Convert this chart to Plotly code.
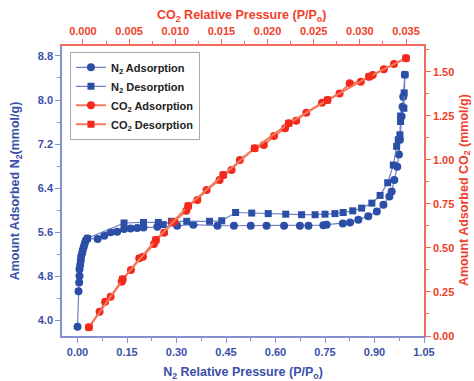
import plotly.graph_objects as go

# N2 adsorption (x: relative pressure, y: mmol/g)
n2_ads_x = [0.000, 0.003, 0.005, 0.006, 0.006, 0.008, 0.010, 0.011, 0.014, 0.016, 0.019, 0.022, 0.025, 0.030,
            0.061, 0.081, 0.100, 0.120, 0.141, 0.161, 0.181, 0.200, 0.242, 0.302, 0.351, 0.424, 0.474, 0.525,
            0.573, 0.626, 0.674, 0.700, 0.745, 0.755, 0.804, 0.826, 0.851, 0.881, 0.907, 0.927, 0.945, 0.952,
            0.960, 0.969, 0.974, 0.977, 0.982, 0.985, 0.987, 0.992]
n2_ads_y = [3.89, 4.53, 4.69, 4.81, 4.93, 5.01, 5.09, 5.16, 5.22, 5.28, 5.34, 5.40, 5.45, 5.49,
            5.48, 5.54, 5.60, 5.61, 5.66, 5.67, 5.68, 5.69, 5.70, 5.72, 5.74, 5.72, 5.72, 5.72,
            5.72, 5.72, 5.72, 5.72, 5.73, 5.74, 5.76, 5.78, 5.83, 5.89, 5.98, 6.10, 6.25, 6.34,
            6.55, 6.79, 7.01, 7.28, 7.70, 7.88, 8.06, 8.46]

# N2 desorption
n2_des_x = [0.992, 0.990, 0.989, 0.979, 0.979, 0.977, 0.972, 0.967, 0.957, 0.940, 0.917, 0.892, 0.861, 0.834,
            0.805, 0.780, 0.750, 0.720, 0.679, 0.631, 0.578, 0.528, 0.479, 0.437, 0.400, 0.331, 0.285,
            0.260, 0.245, 0.200, 0.141, 0.030]
n2_des_y = [8.46, 8.13, 7.85, 7.71, 7.61, 7.37, 7.28, 7.16, 6.82, 6.50, 6.27, 6.13, 6.04, 5.99,
            5.96, 5.94, 5.93, 5.92, 5.92, 5.93, 5.94, 5.95, 5.96, 5.81, 5.80, 5.80, 5.80,
            5.74, 5.78, 5.78, 5.77, 5.49]

# CO2 adsorption (x: relative pressure, y: mmol/g)
co2_ads_x = [0.00065, 0.0018, 0.0024, 0.0030, 0.0042, 0.0043, 0.0052, 0.0061, 0.0065, 0.0077, 0.0079,
             0.0088, 0.0097, 0.0099, 0.0112, 0.0114, 0.0124, 0.0134, 0.0148, 0.0152, 0.0161, 0.0170,
             0.0186, 0.0196, 0.0207, 0.0219, 0.0223, 0.0231, 0.0242, 0.0259, 0.0265, 0.0278, 0.0289,
             0.0301, 0.0310, 0.0314, 0.0326, 0.0337, 0.0350]
co2_ads_y = [0.049, 0.138, 0.195, 0.223, 0.308, 0.322, 0.375, 0.441, 0.450, 0.522, 0.545,
             0.586, 0.645, 0.649, 0.711, 0.738, 0.772, 0.829, 0.885, 0.914, 0.942, 0.999,
             1.065, 1.084, 1.135, 1.179, 1.207, 1.222, 1.267, 1.324, 1.339, 1.377, 1.434,
             1.443, 1.472, 1.481, 1.514, 1.544, 1.577]

# CO2 desorption
co2_des_x = [0.0350, 0.0310, 0.0265, 0.0223, 0.0186, 0.0152, 0.0114, 0.0079, 0.0043, 0.00065]
co2_des_y = [1.577, 1.472, 1.339, 1.207, 1.065, 0.914, 0.738, 0.545, 0.322, 0.049]

x_ticks = [0, 0.15, 0.30, 0.45, 0.60, 0.75, 0.90, 1.05]
x_labels = ["0.00", "0.15", "0.30", "0.45", "0.60", "0.75", "0.90", "1.05"]
y_ticks = [4.0, 4.8, 5.6, 6.4, 7.2, 8.0, 8.8]
y_labels = ["4.0", "4.8", "5.6", "6.4", "7.2", "8.0", "8.8"]
x2_ticks = [0, 0.005, 0.010, 0.015, 0.020, 0.025, 0.030, 0.035]
x2_labels = ["0.000", "0.005", "0.010", "0.015", "0.020", "0.025", "0.030", "0.035"]
y2_ticks = [0, 0.25, 0.50, 0.75, 1.00, 1.25, 1.50]
y2_labels = ["0.00", "0.25", "0.50", "0.75", "1.00", "1.25", "1.50"]

BLUE = "#2b4ea6"
BLUE_L = "#6f7fc6"
RED = "#f2291c"
RED_L = "#f47a5e"
AX_BLUE = "#8590cc"
AX_RED = "#f26a5a"
TXT_BLUE = "#3a4fa8"
TXT_RED = "#f0402a"
FONT = "Liberation Sans, Arial, sans-serif"

fig = go.Figure()
fig.add_trace(go.Scatter(x=n2_ads_x, y=n2_ads_y, mode="lines+markers", name="N<sub>2</sub> Adsorption",
                         line=dict(color=BLUE_L, width=1.2),
                         marker=dict(symbol="circle", size=8, color=BLUE), xaxis="x", yaxis="y"))
fig.add_trace(go.Scatter(x=n2_des_x, y=n2_des_y, mode="lines+markers", name="N<sub>2</sub> Desorption",
                         line=dict(color=BLUE_L, width=1.2),
                         marker=dict(symbol="square", size=7, color=BLUE), xaxis="x", yaxis="y"))
fig.add_trace(go.Scatter(x=co2_ads_x, y=co2_ads_y, mode="lines+markers", name="CO<sub>2</sub> Adsorption",
                         line=dict(color=RED_L, width=2),
                         marker=dict(symbol="circle", size=8, color=RED), xaxis="x2", yaxis="y2"))
fig.add_trace(go.Scatter(x=co2_des_x, y=co2_des_y, mode="lines+markers", name="CO<sub>2</sub> Desorption",
                         line=dict(color=RED_L, width=2),
                         marker=dict(symbol="square", size=7, color=RED), xaxis="x2", yaxis="y2"))

tickfont_b = dict(family=FONT, size=11, color=TXT_BLUE, weight="bold")
tickfont_r = dict(family=FONT, size=11, color=TXT_RED, weight="bold")

fig.update_layout(
    width=474, height=381,
    margin=dict(l=62, r=50, t=46, b=45, autoexpand=False),
    paper_bgcolor="white", plot_bgcolor="white",
    showlegend=True,
    legend=dict(x=0.022, y=0.98, xanchor="left", yanchor="top",
                bgcolor="white", bordercolor="#aaaaaa", borderwidth=1,
                font=dict(family=FONT, size=11, color="#222222", weight="bold"),
                tracegroupgap=0, itemwidth=30),
    xaxis=dict(range=[-0.047, 1.05], tickvals=x_ticks, ticktext=x_labels,
               automargin=False,
               showgrid=False, zeroline=False, showline=True, linecolor=AX_BLUE, linewidth=1.5,
               ticks="outside", ticklen=5, tickcolor=AX_BLUE, tickfont=tickfont_b,
               minor=dict(ticks="outside", ticklen=3, tickcolor=AX_BLUE, dtick=0.075, tick0=0, showgrid=False),
               title=dict(text="N<sub>2</sub> Relative Pressure (P/P<sub>o</sub>)",
                          font=dict(family=FONT, size=12.5, color=TXT_BLUE, weight="bold"))),
    yaxis=dict(range=[3.72, 8.98], tickvals=y_ticks, ticktext=y_labels,
               automargin=False,
               showgrid=False, zeroline=False, showline=True, linecolor=AX_BLUE, linewidth=1.5,
               ticks="outside", ticklen=5, tickcolor=AX_BLUE, tickfont=tickfont_b,
               minor=dict(ticks="outside", ticklen=3, tickcolor=AX_BLUE, dtick=0.4, tick0=4.0, showgrid=False),
               title=dict(text="Amount Adsorbed N<sub>2</sub>(mmol/g)",
                          font=dict(family=FONT, size=12.5, color=TXT_BLUE, weight="bold"))),
    xaxis2=dict(range=[-0.00227, 0.03695], overlaying="x", side="top",
                tickvals=x2_ticks, ticktext=x2_labels,
                automargin=False,
                showgrid=False, zeroline=False, showline=True, linecolor=AX_RED, linewidth=1.5,
                ticks="outside", ticklen=5, tickcolor=AX_RED, tickfont=tickfont_r,
                minor=dict(ticks="outside", ticklen=3, tickcolor=AX_RED, dtick=0.0025, tick0=0, showgrid=False)),
    yaxis2=dict(range=[0, 1.646], overlaying="y", side="right",
                tickvals=y2_ticks, ticktext=y2_labels,
                automargin=False,
                showgrid=False, zeroline=False, showline=True, linecolor=AX_RED, linewidth=1.5,
                ticks="outside", ticklen=5, tickcolor=AX_RED, tickfont=tickfont_r,
                minor=dict(ticks="outside", ticklen=3, tickcolor=AX_RED, dtick=0.125, tick0=0, showgrid=False)),
    annotations=[
        dict(text="CO<sub>2</sub> Relative Pressure (P/P<sub>o</sub>)", xref="paper", yref="paper",
             x=0.497, y=1.103, xanchor="center", yanchor="middle", showarrow=False,
             font=dict(family=FONT, size=12.5, color=TXT_RED, weight="bold")),
        dict(text="Amount Adsorbed CO<sub>2</sub> (mmol/g)", xref="paper", yref="paper",
             x=1.113, y=0.503, xanchor="center", yanchor="middle", showarrow=False, textangle=-90,
             font=dict(family=FONT, size=12.5, color=TXT_RED, weight="bold")),
    ],
)

fig.write_html("out.html", config={"displayModeBar": False},
               post_script="document.body.style.margin='0';document.body.style.overflow='hidden';")
